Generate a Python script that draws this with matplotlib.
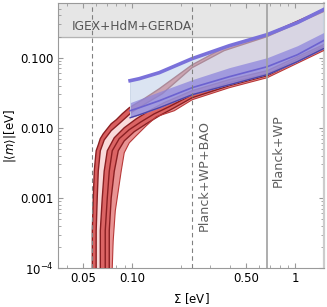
import numpy as np
import matplotlib
matplotlib.use("Agg")
import matplotlib.pyplot as plt
from matplotlib.ticker import FixedLocator, NullFormatter

plt.rcParams['mathtext.fontset'] = 'dejavusans'

# normal ordering (red) curves: sum of masses, |<m>|
no_up_sum = [0.0569, 0.0569, 0.0569, 0.0577, 0.0585, 0.0593, 0.0601, 0.0619, 0.0637, 0.0664, 0.0703,
             0.0743, 0.0798, 0.0868, 0.0959, 0.1185, 0.1465, 0.233, 0.366, 0.673, 1.49]
no_up_m = [5e-5, 1e-4, 3.4e-4, 1.0e-3, 2.4e-3, 3.4e-3, 4.7e-3, 5.7e-3, 7.0e-3, 8.2e-3, 9.7e-3,
           0.0114, 0.013, 0.0158, 0.0193, 0.026, 0.036, 0.079, 0.139, 0.213, 0.485]

no_a_sum = [0.0601, 0.0601, 0.0601, 0.0610, 0.0619, 0.0637, 0.0673, 0.0743, 0.0844, 0.100, 0.1236, 0.1528, 0.233, 0.366, 0.673, 1.49]
no_a_m = [5e-5, 1e-4, 3.4e-4, 1e-3, 2.4e-3, 4.7e-3, 6.7e-3, 9.1e-3, 0.0118, 0.0169, 0.0228, 0.0306, 0.072, 0.126, 0.20, 0.454]

no_b1_sum = [0.0637, 0.0637, 0.0637, 0.0655, 0.0673, 0.0703, 0.0776, 0.0893, 0.1058, 0.127, 0.157, 0.233, 0.394, 0.673, 1.49]
no_b1_m = [5e-5, 1e-4, 3.4e-4, 1e-3, 2.4e-3, 4.7e-3, 7.2e-3, 0.010, 0.0134, 0.0175, 0.0228, 0.0338, 0.0485, 0.0652, 0.153]

no_b2_sum = [0.0683, 0.0683, 0.0683, 0.0703, 0.0723, 0.0754, 0.0832, 0.0959, 0.1135, 0.1364, 0.1687, 0.233, 0.394, 0.673, 1.49]
no_b2_m = [5e-5, 1e-4, 3.4e-4, 1e-3, 2.4e-3, 4.7e-3, 7.0e-3, 9.4e-3, 0.0122, 0.0158, 0.020, 0.0296, 0.044, 0.059, 0.1436]

no_b3_sum = [0.0723, 0.0723, 0.0723, 0.0743, 0.0776, 0.0821, 0.0893, 0.1029, 0.122, 0.1465, 0.181, 0.233, 0.394, 0.673, 1.49]
no_b3_m = [5e-5, 1e-4, 3.4e-4, 1e-3, 2.4e-3, 4.7e-3, 6.5e-3, 8.8e-3, 0.0114, 0.0148, 0.0193, 0.0268, 0.0398, 0.0553, 0.1345]

no_lo_sum = [0.0754, 0.0754, 0.0764, 0.0787, 0.0821, 0.0856, 0.0893, 0.0959, 0.1058, 0.122, 0.1404, 0.181, 0.233, 0.394, 0.673, 1.49]
no_lo_m = [5e-5, 1e-4, 2.43e-4, 6.5e-4, 1.26e-3, 2.43e-3, 4.4e-3, 6.1e-3, 7.7e-3, 0.0107, 0.0144, 0.0175, 0.0251, 0.0373, 0.0518, 0.126]

# inverted ordering (blue)
io_sum = [0.097, 0.1104, 0.1465, 0.233, 0.394, 0.673, 1.03, 1.49]
io_up = [0.0469, 0.0501, 0.0611, 0.0968, 0.148, 0.213, 0.316, 0.485]
io_band = [0.0228, 0.0255, 0.0327, 0.0485, 0.072, 0.100, 0.148, 0.228]
io_mid = [0.0175, 0.0193, 0.0243, 0.0373, 0.0535, 0.0743, 0.110, 0.175]
io_lo = [0.0139, 0.0153, 0.0193, 0.0296, 0.0411, 0.0572, 0.0877, 0.1345]

# bounds
excl_m = 0.2
planck_bao = 0.233
planck_wp = 0.67
sum_min = 0.057


def band(ax, x1, y1, x2, y2, **kw):
    xs = list(x1) + list(x2)[::-1]
    ys = list(y1) + list(y2)[::-1]
    ax.fill(xs, ys, **kw)


fig = plt.figure(figsize=(3.27, 3.07), dpi=100)
ax = fig.add_axes([0.177, 0.127, 0.814, 0.863])
ax.set_xscale('log')
ax.set_yscale('log')
ax.set_xlim(0.035, 1.5)
ax.set_ylim(1e-4, 0.6)

# excluded region
ax.axhspan(excl_m, 0.6, color='#e6e6e6', zorder=0)
ax.axhline(excl_m, color='#b4b4b4', lw=0.9, zorder=1)
ax.text(0.1, 0.275, 'IGEX+HdM+GERDA', fontsize=8.8, color='#555555',
        ha='center', va='center', zorder=6)

# normal ordering
band(ax, no_up_sum, no_up_m, no_lo_sum, no_lo_m, color='#f9dada', lw=0, zorder=2)
band(ax, no_up_sum, no_up_m, no_a_sum, no_a_m, color='#d95f5f', lw=0, zorder=2)
band(ax, no_b1_sum, no_b1_m, no_b3_sum, no_b3_m, color='#db6464', lw=0, zorder=2)
band(ax, no_b3_sum, no_b3_m, no_lo_sum, no_lo_m, color='#e99494', lw=0, zorder=2)
for xs, ys in [(no_up_sum, no_up_m), (no_a_sum, no_a_m), (no_b1_sum, no_b1_m),
               (no_b2_sum, no_b2_m), (no_b3_sum, no_b3_m)]:
    ax.plot(xs, ys, color='#8a1f22', lw=1.0, zorder=3)
ax.plot(no_lo_sum, no_lo_m, color='#b83a3a', lw=0.8, zorder=3)

# inverted ordering
ax.fill_between(io_sum, io_lo, io_up, color='#c3d3ea', alpha=0.6, lw=0, zorder=4)
ax.fill_between(io_sum, io_lo, io_band, color='#8a82dc', alpha=0.7, lw=0, zorder=4)
ax.plot(io_sum, io_mid, color='#6c62d0', lw=1.2, zorder=5)
ax.plot(io_sum, io_lo, color='#4c44a8', lw=1.0, zorder=5)
ax.plot(io_sum, io_up, color='#7a71da', lw=2.6, zorder=5)
ax.plot([io_sum[0], io_sum[0]], [io_lo[0], io_up[0]], color='#c8d4e6', lw=0.6, zorder=4)

# cosmological bounds
ax.axvline(sum_min, color='#808080', lw=0.8, ls=(0, (4, 3)), zorder=6)
ax.axvline(planck_bao, color='#808080', lw=0.8, ls=(0, (4, 3)), zorder=6)
ax.axvline(planck_wp, color='#a0a0a0', lw=1.2, zorder=6)
ax.text(0.277, 0.0021, 'Planck+WP+BAO', rotation=90, fontsize=9.2,
        color='#606060', ha='center', va='center', zorder=6)
ax.text(0.79, 0.0047, 'Planck+WP', rotation=90, fontsize=9.2,
        color='#606060', ha='center', va='center', zorder=6)

# ticks
ax.xaxis.set_major_locator(FixedLocator([0.05, 0.1, 0.5, 1.0]))
ax.set_xticklabels(['0.05', '0.10', '0.50', '1'])
ax.xaxis.set_minor_locator(FixedLocator([0.04, 0.06, 0.07, 0.08, 0.09, 0.2, 0.3, 0.4,
                                         0.6, 0.7, 0.8, 0.9]))
ax.xaxis.set_minor_formatter(NullFormatter())
ax.yaxis.set_major_locator(FixedLocator([1e-4, 1e-3, 1e-2, 1e-1]))
ax.set_yticklabels([r'$10^{-4}$', '0.001', '0.010', '0.100'])
ax.yaxis.set_minor_locator(FixedLocator([k * 10.0 ** e for e in range(-4, 0) for k in range(2, 10)]))
ax.yaxis.set_minor_formatter(NullFormatter())
ax.tick_params(which='both', direction='in', top=True, right=True, color='#999999',
               labelsize=8.5, pad=3)
ax.tick_params(which='major', length=3.5)
ax.tick_params(which='minor', length=2)
for s in ax.spines.values():
    s.set_color('#9a9a9a')
    s.set_linewidth(0.8)
ax.spines['right'].set_color('#cccccc')
ax.spines['right'].set_linewidth(1.6)

ax.set_xlabel(r'$\Sigma$ [eV]', fontsize=8.5, labelpad=4)
ax.set_ylabel(r'$|\langle m\rangle|$[eV]', fontsize=8.5, labelpad=2)

fig.savefig('out.png', dpi=100)
